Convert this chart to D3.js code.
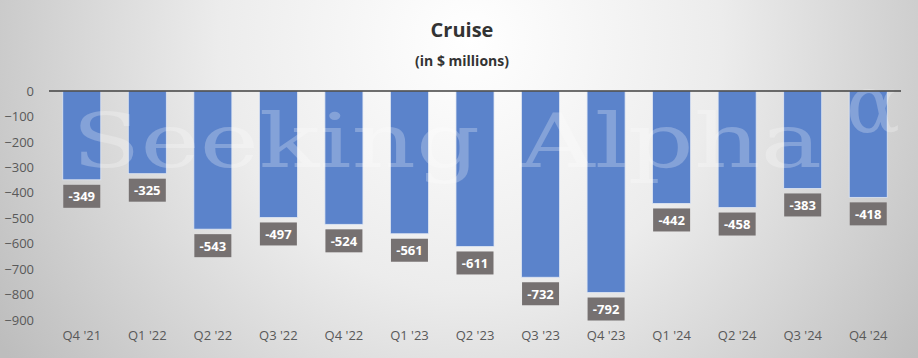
<!DOCTYPE html>
<html><head><meta charset="utf-8">
<script src="https://cdn.jsdelivr.net/npm/d3@7"></script>
<style>html,body{margin:0;padding:0;overflow:hidden;}</style>
</head><body>
<script>
const categories = ["Q4 '21","Q1 '22","Q2 '22","Q3 '22","Q4 '22","Q1 '23","Q2 '23","Q3 '23","Q4 '23","Q1 '24","Q2 '24","Q3 '24","Q4 '24"];
const values = [-349,-325,-543,-497,-524,-561,-611,-732,-792,-442,-458,-383,-418];
const yTicks = [0,-100,-200,-300,-400,-500,-600,-700,-800,-900];
const title = "Cruise";
const subtitle = "(in $ millions)";
const watermark = ["Seeking","Alpha","\u03B1"];

const W=918,H=358;
const svg=d3.select("body").append("svg").attr("width",W).attr("height",H);
const defs=svg.append("defs");
const rg=defs.append("radialGradient").attr("id","bg").attr("gradientUnits","userSpaceOnUse")
  .attr("cx",470).attr("cy",40).attr("r",560);
rg.append("stop").attr("offset","0%").attr("stop-color","#ffffff");
rg.append("stop").attr("offset","45%").attr("stop-color","#ececec");
rg.append("stop").attr("offset","100%").attr("stop-color","#bdbdbd");
svg.append("rect").attr("width",W).attr("height",H).attr("fill","url(#bg)");

const x=d3.scaleBand().domain(categories).range([49,901]).paddingInner(0.42).paddingOuter(0.21);
const y=d3.scaleLinear().domain([-900,0]).range([320,91]);

// bars
svg.append("g").selectAll("rect").data(values).join("rect")
  .attr("x",(d,i)=>x(categories[i])).attr("y",y(0))
  .attr("width",x.bandwidth()).attr("height",d=>y(d)-y(0))
  .attr("fill","#5b83cb").attr("stroke","#dfe6f3").attr("stroke-width",0.8);

// watermark
const wm=svg.append("g").attr("font-family","'DejaVu Serif',serif")
  .attr("fill","#ffffff").attr("fill-opacity",0.25);
wm.append("text").attr("x",72).attr("y",167).attr("font-size",75)
  .attr("textLength",408).attr("lengthAdjust","spacingAndGlyphs").text(watermark[0]);
wm.append("text").attr("x",520).attr("y",167).attr("font-size",75)
  .attr("textLength",302).attr("lengthAdjust","spacingAndGlyphs").text(watermark[1]);
wm.append("text").attr("x",846).attr("y",132).attr("font-size",80).text(watermark[2]);

// zero line
svg.append("line").attr("x1",49).attr("x2",901).attr("y1",y(0)).attr("y2",y(0))
  .attr("stroke","#404040").attr("stroke-width",1.5);

// y axis
const ya=d3.axisLeft(y).tickValues(yTicks).tickSize(0).tickPadding(0).tickFormat(d3.format("d"));
const yg=svg.append("g").attr("transform","translate(34,0)").call(ya);
yg.select(".domain").remove();
yg.selectAll("text").attr("font-family","'Open Sans',sans-serif").attr("font-size",13).attr("fill","#595959");

// x axis
const xa=d3.axisBottom(x).tickSize(0).tickPadding(0);
const xg=svg.append("g").attr("transform","translate(0,331)").call(xa);
xg.select(".domain").remove();
xg.selectAll("text").attr("font-family","'Open Sans',sans-serif").attr("font-size",13).attr("fill","#595959");

// data labels
const lg=svg.append("g").selectAll("g").data(values).join("g")
  .attr("transform",(d,i)=>`translate(${x(categories[i])+x.bandwidth()/2},${y(d)+5})`);
lg.append("rect").attr("x",-18.5).attr("y",0).attr("width",37).attr("height",23).attr("fill","#767171");
lg.append("text").attr("y",16.5).attr("text-anchor","middle")
  .attr("font-family","'Open Sans',sans-serif").attr("font-weight","bold").attr("font-size",13)
  .attr("fill","#ffffff").text(d=>d);

// titles
svg.append("text").attr("x",462).attr("y",37).attr("text-anchor","middle")
  .attr("font-family","'Open Sans',sans-serif").attr("font-weight","bold").attr("font-size",20)
  .attr("fill","#333333").text(title);
svg.append("text").attr("x",462).attr("y",66).attr("text-anchor","middle")
  .attr("font-family","'Open Sans',sans-serif").attr("font-weight","bold").attr("font-size",14)
  .attr("fill","#333333").text(subtitle);
</script>
</body></html>
